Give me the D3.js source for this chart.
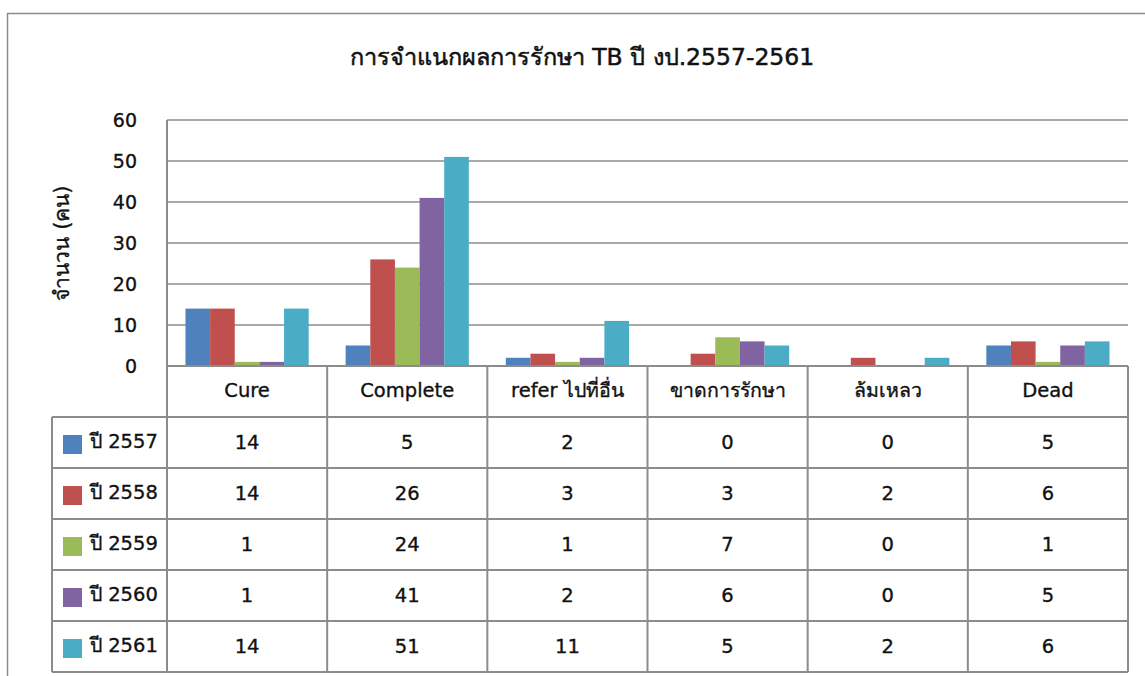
<!DOCTYPE html>
<html>
<head>
<meta charset="utf-8">
<script src="https://cdn.jsdelivr.net/npm/d3@7"></script>
<style>
  body { margin: 0; background: #fff; }
  svg text { font-family: "DejaVu Sans", Tahoma, sans-serif; font-weight: normal; fill: #111; stroke: #111; stroke-width: 0.35px; }
</style>
</head>
<body>
<div id="chart"></div>
<script>
// Data
const categories = ["Cure", "Complete", "refer ไปที่อื่น", "ขาดการรักษา", "ล้มเหลว", "Dead"];
const seriesNames = ["ปี 2557", "ปี 2558", "ปี 2559", "ปี 2560", "ปี 2561"];
const values2557 = [14, 5, 2, 0, 0, 5];
const values2558 = [14, 26, 3, 3, 2, 6];
const values2559 = [1, 24, 1, 7, 0, 1];
const values2560 = [1, 41, 2, 6, 0, 5];
const values2561 = [14, 51, 11, 5, 2, 6];
const yTicks = [0, 10, 20, 30, 40, 50, 60];
const titleText = "การจำแนกผลการรักษา TB ปี งป.2557-2561";
const yLabel = "จำนวน (คน)";

const seriesValues = [values2557, values2558, values2559, values2560, values2561];
const colors = ["#4F81BD", "#C0504D", "#9BBB59", "#8064A2", "#4BACC6"];

const width = 1145, height = 676;
const plot = { left: 167, right: 1128, top: 120, bottom: 366 };
const legendLeft = 52;
const rowH = 51;
const gridColor = "#8c8c8c";
const fs = "19.5px";

const svg = d3.select("#chart").append("svg")
    .attr("width", width)
    .attr("height", height);

// outer chart border
svg.append("rect")
    .attr("x", 7.5).attr("y", 13.5)
    .attr("width", width + 10).attr("height", height + 10)
    .attr("fill", "none")
    .attr("stroke", "#8c8c8c")
    .attr("stroke-width", 1.5);

// title
svg.append("text")
    .attr("x", 582).attr("y", 65)
    .attr("text-anchor", "middle")
    .style("font-size", "23.5px")
    .style("stroke-width", "0.5px")
    .text(titleText);

// scales
const x = d3.scaleBand()
    .domain(categories)
    .range([plot.left, plot.right]);

const xInner = d3.scaleBand()
    .domain(seriesNames)
    .range([0, x.bandwidth()])
    .paddingInner(0)
    .paddingOuter(0.75);

const y = d3.scaleLinear()
    .domain([0, 60])
    .range([plot.bottom, plot.top]);

// gridlines
svg.append("g")
    .selectAll("line")
    .data(yTicks)
    .join("line")
    .attr("x1", plot.left).attr("x2", plot.right)
    .attr("y1", d => y(d)).attr("y2", d => y(d))
    .attr("stroke", gridColor)
    .attr("stroke-width", 1.5);

// y axis labels
const yAxis = d3.axisLeft(y).tickValues(yTicks).tickSize(0).tickPadding(30);
svg.append("g")
    .attr("transform", `translate(${plot.left},0)`)
    .call(yAxis)
    .call(g => g.select(".domain").remove())
    .call(g => g.selectAll("text").style("font-size", "19px").attr("fill", "#111"));

// y title
svg.append("text")
    .attr("transform", `translate(69,${(plot.top + plot.bottom) / 2}) rotate(-90)`)
    .attr("text-anchor", "middle")
    .style("font-size", "21px")
    .text(yLabel);

// bars
const groups = svg.append("g")
    .selectAll("g")
    .data(categories)
    .join("g")
    .attr("transform", d => `translate(${x(d)},0)`);

groups.selectAll("rect")
    .data((d, ci) => seriesNames.map((s, si) => ({ s, si, v: seriesValues[si][ci] })))
    .join("rect")
    .filter(d => d.v > 0)
    .attr("x", d => xInner(d.s))
    .attr("width", xInner.bandwidth())
    .attr("y", d => y(d.v))
    .attr("height", d => y(0) - y(d.v))
    .attr("fill", d => colors[d.si]);

// data table
const table = svg.append("g");
const tableTop = plot.bottom;
const tableBottom = tableTop + rowH * (seriesNames.length + 1);

// header cells text
table.selectAll(".cat")
    .data(categories)
    .join("text")
    .attr("class", "cat")
    .attr("x", d => x(d) + x.bandwidth() / 2)
    .attr("y", tableTop + rowH / 2 + 5)
    .attr("text-anchor", "middle")
    .style("font-size", fs)
    .text(d => d);

// rows
seriesNames.forEach((s, si) => {
    const rowTop = tableTop + rowH * (si + 1);
    table.append("rect")
        .attr("x", 63).attr("y", rowTop + 18)
        .attr("width", 19).attr("height", 19)
        .attr("fill", colors[si]);
    table.append("text")
        .attr("x", 90).attr("y", rowTop + rowH / 2 + 5)
        .style("font-size", fs)
        .text(s);
    table.selectAll(null)
        .data(categories)
        .join("text")
        .attr("x", d => x(d) + x.bandwidth() / 2)
        .attr("y", rowTop + rowH / 2 + 6)
        .attr("text-anchor", "middle")
        .style("font-size", fs)
        .text((d, ci) => seriesValues[si][ci]);
});

// table lines
const hLines = d3.range(seriesNames.length + 2).map(i => tableTop + rowH * i);
table.selectAll(".hl")
    .data(hLines)
    .join("line")
    .attr("x1", (d, i) => i < 1 ? plot.left : legendLeft)
    .attr("x2", plot.right)
    .attr("y1", d => d).attr("y2", d => d)
    .attr("stroke", gridColor)
    .attr("stroke-width", 2);

const vLines = categories.map(c => x(c)).concat([plot.right]);
table.selectAll(".vl")
    .data(vLines)
    .join("line")
    .attr("x1", d => d).attr("x2", d => d)
    .attr("y1", (d, i) => i === 0 ? plot.top : tableTop)
    .attr("y2", tableBottom)
    .attr("stroke", gridColor)
    .attr("stroke-width", 2);

table.append("line")
    .attr("x1", legendLeft).attr("x2", legendLeft)
    .attr("y1", tableTop + rowH).attr("y2", tableBottom)
    .attr("stroke", gridColor)
    .attr("stroke-width", 2);
</script>
</body>
</html>
